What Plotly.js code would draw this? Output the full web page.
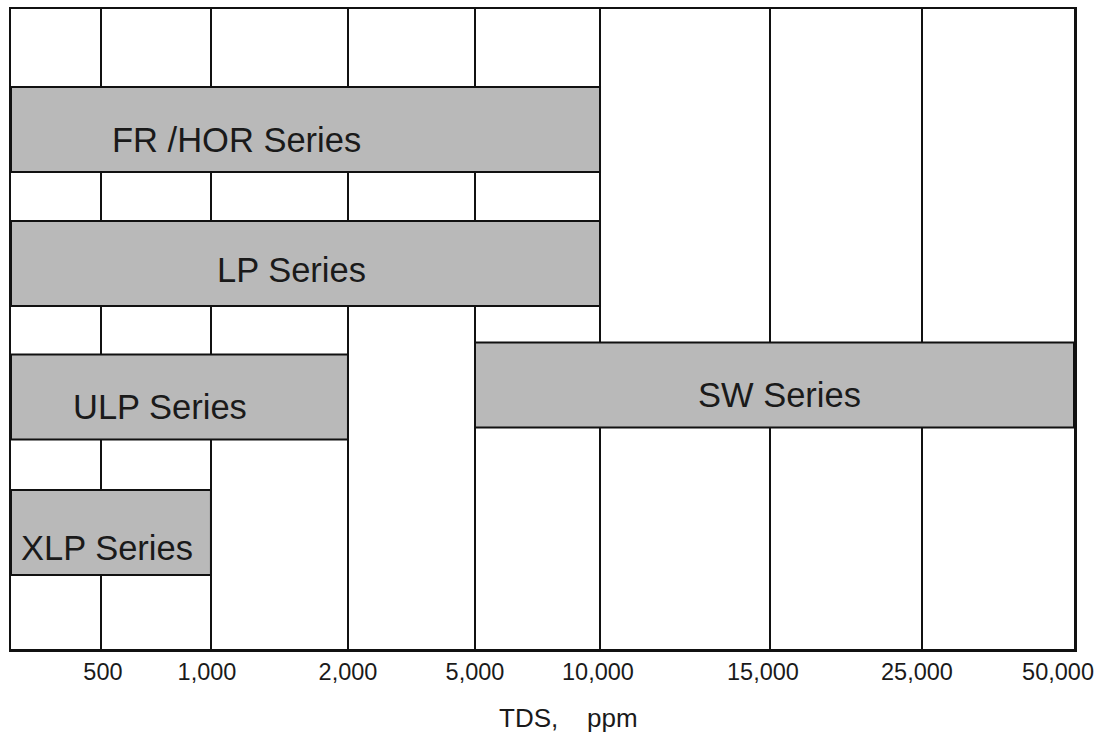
<!DOCTYPE html>
<html>
<head>
<meta charset="utf-8">
<script src="https://cdn.plot.ly/plotly-3.0.1.min.js"></script>
<style>
  html, body { margin: 0; padding: 0; background: #ffffff; }
  #chart { width: 1101px; height: 740px; }
</style>
</head>
<body>
<div id="chart"></div>
<script>
// ---- data ----
const tickLabels = ['500', '1,000', '2,000', '5,000', '10,000', '15,000', '25,000', '50,000'];
const tdsTicks   = [500, 1000, 2000, 5000, 10000, 15000, 25000, 50000];
const seriesNames = ['FR /HOR Series', 'LP Series', 'ULP Series', 'SW Series', 'XLP Series'];
const tdsLow  = [0, 0, 0, 5000, 0];
const tdsHigh = [10000, 10000, 2000, 50000, 1000];
const axisTitle = 'TDS,\u00a0\u00a0\u00a0 ppm';

// ---- layout helpers (non-uniform TDS scale as drawn in the original) ----
const slotPos  = [0.0847, 0.1881, 0.3170, 0.4365, 0.5541, 0.7140, 0.8570, 1.0];   // grid lines
const labelPos = [0.0865, 0.1844, 0.3170, 0.4365, 0.5522, 0.7074, 0.8523, 0.9850]; // tick label centres
const rowPos   = [0, 1, 1.996, 1.907, 3.007];
const labelX   = [0.2117, 0.2643, 0.1400, 0.7225, 0.0903];
const labelY   = [0.08, 1.05, 2.07, 1.98, 3.12];

function tdsToAxis(v) {
  if (v <= 0) return 0;
  const i = tdsTicks.indexOf(v);
  return slotPos[i];
}

const starts = tdsLow.map(tdsToAxis);
const lengths = tdsHigh.map((v, i) => tdsToAxis(v) - starts[i]);

const traces = [{
  type: 'bar',
  orientation: 'h',
  x: lengths,
  base: starts,
  y: rowPos,
  width: 0.634,
  marker: { color: '#b9b9b9', line: { color: '#111111', width: 2 } },
  hoverinfo: 'skip',
  showlegend: false,
  cliponaxis: false
}, {
  // invisible trace to activate the tick-label axis
  type: 'scatter', mode: 'markers',
  x: [labelPos[0]], y: [rowPos[0]],
  xaxis: 'x2', marker: { opacity: 0 }, hoverinfo: 'skip', showlegend: false
}];

const annotations = seriesNames.map((name, i) => ({
  x: labelX[i], y: labelY[i], xref: 'x', yref: 'y',
  text: name, showarrow: false,
  font: { family: 'Liberation Sans, Arial, sans-serif', size: 34.5, color: '#1a1a1a' },
  xanchor: 'center', yanchor: 'middle'
}));
annotations.push({
  x: 0.524, y: -0.108, xref: 'paper', yref: 'paper',
  text: axisTitle, showarrow: false,
  font: { family: 'Liberation Sans, Arial, sans-serif', size: 26, color: '#1a1a1a' },
  xanchor: 'center', yanchor: 'middle'
});

const layout = {
  width: 1101, height: 740,
  margin: { l: 11, r: 27, t: 9, b: 91 },
  paper_bgcolor: '#ffffff', plot_bgcolor: '#ffffff',
  bargap: 0,
  xaxis: {
    range: [0, 1], fixedrange: true,
    tickvals: slotPos, showticklabels: false, ticks: '',
    showgrid: true, gridcolor: '#111111', gridwidth: 1.5,
    zeroline: false,
    showline: true, linecolor: '#111111', linewidth: 2.5, mirror: true
  },
  xaxis2: {
    overlaying: 'x', anchor: 'y', side: 'bottom',
    range: [0, 1], fixedrange: true,
    tickvals: labelPos, ticktext: tickLabels, ticks: '',
    ticklabelstandoff: 6,
    showgrid: false, zeroline: false, showline: false,
    tickfont: { family: 'Liberation Sans, Arial, sans-serif', size: 23.5, color: '#1a1a1a' }
  },
  yaxis: {
    range: [3.877, -0.899], fixedrange: true,
    showticklabels: false, ticks: '', showgrid: false, zeroline: false,
    showline: true, linecolor: '#111111', linewidth: 2.5, mirror: true
  },
  annotations: annotations
};

Plotly.newPlot('chart', traces, layout, { displayModeBar: false, staticPlot: true });
</script>
</body>
</html>
